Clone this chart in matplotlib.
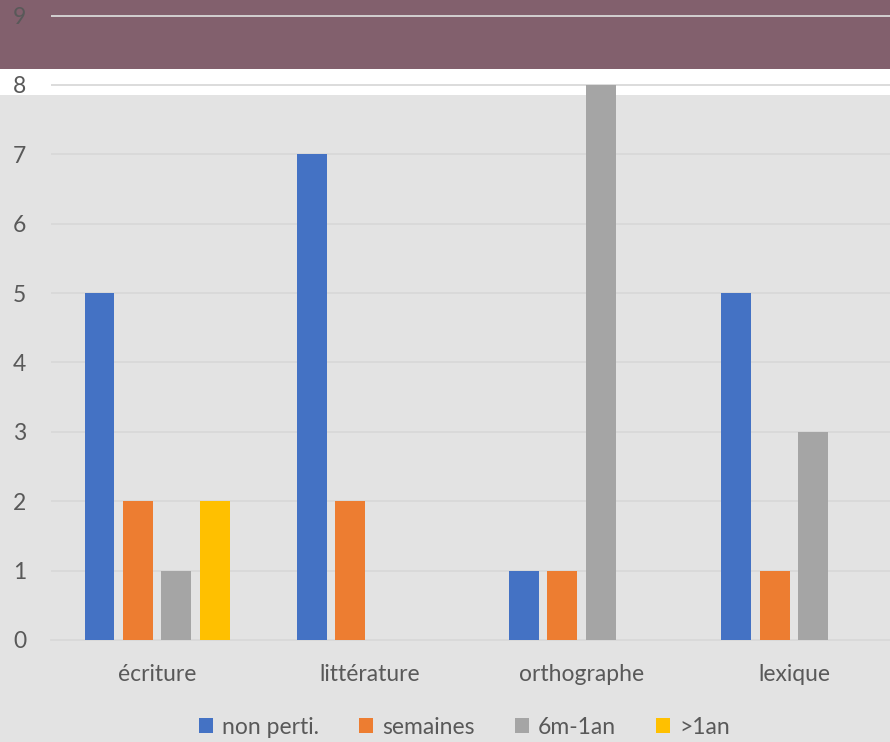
import matplotlib.pyplot as plt
from matplotlib.patches import Rectangle
import numpy as np

plt.rcParams['font.family'] = ['Lato', 'DejaVu Sans']

categories = ["écriture", "littérature", "orthographe", "lexique"]
series = ["non perti.", "semaines", "6m-1an", ">1an"]
non_perti = [5, 7, 1, 5]
semaines = [2, 2, 1, 1]
six_m_1an = [1, 0, 8, 3]
plus_1an = [2, 0, 0, 0]
colors = ["#4472C4", "#ED7D31", "#A5A5A5", "#FFC000"]

values = [non_perti, semaines, six_m_1an, plus_1an]

fig = plt.figure(figsize=(8.9, 7.42), dpi=100)
fig.patch.set_facecolor("#e3e3e3")
# maroon band + white strip on top of the figure (behind the axes)
fig.patches.append(Rectangle((0, 1 - 69 / 742), 1, 69 / 742, transform=fig.transFigure,
                             facecolor="#82606d", edgecolor="none", zorder=-5))
fig.patches.append(Rectangle((0, 1 - 95 / 742), 1, 26 / 742, transform=fig.transFigure,
                             facecolor="white", edgecolor="none", zorder=-5))

ax = fig.add_axes([51 / 890, 1 - 640 / 742, 849 / 890, 640 / 742])
ax.set_facecolor("none")
ax.set_zorder(1)

x = np.arange(len(categories))
w = 0.141
step = 0.181
for i, (name, vals) in enumerate(zip(series, values)):
    ax.bar(x + (i - 1.5) * step, vals, width=w, color=colors[i], label=name, zorder=3)

ax.set_xlim(-0.5, 3.5)
ax.set_ylim(0, 9.225)
ax.set_yticks(range(0, 10))
ax.yaxis.grid(True, color="#d9d9d9", linewidth=1.3, zorder=0)
ax.set_axisbelow(True)
for s in ["top", "right", "left"]:
    ax.spines[s].set_visible(False)
ax.spines["bottom"].set_color("#d9d9d9")
ax.spines["bottom"].set_linewidth(1.3)

ax.set_xticks(x)
ax.set_xticklabels(categories)
ax.tick_params(axis="both", length=0, colors="#595959", labelsize=16.5)
ax.tick_params(axis="x", pad=17)
ax.tick_params(axis="y", pad=18)

fig.legend(loc="center", bbox_to_anchor=(464.5 / 890, 1 - 727 / 742), ncol=4,
           frameon=False, fontsize=16.5, labelcolor="#595959",
           handlelength=0.6, handleheight=0.6, handletextpad=0.4, columnspacing=1.75)

fig.savefig("out.png", dpi=100, facecolor=fig.get_facecolor())
